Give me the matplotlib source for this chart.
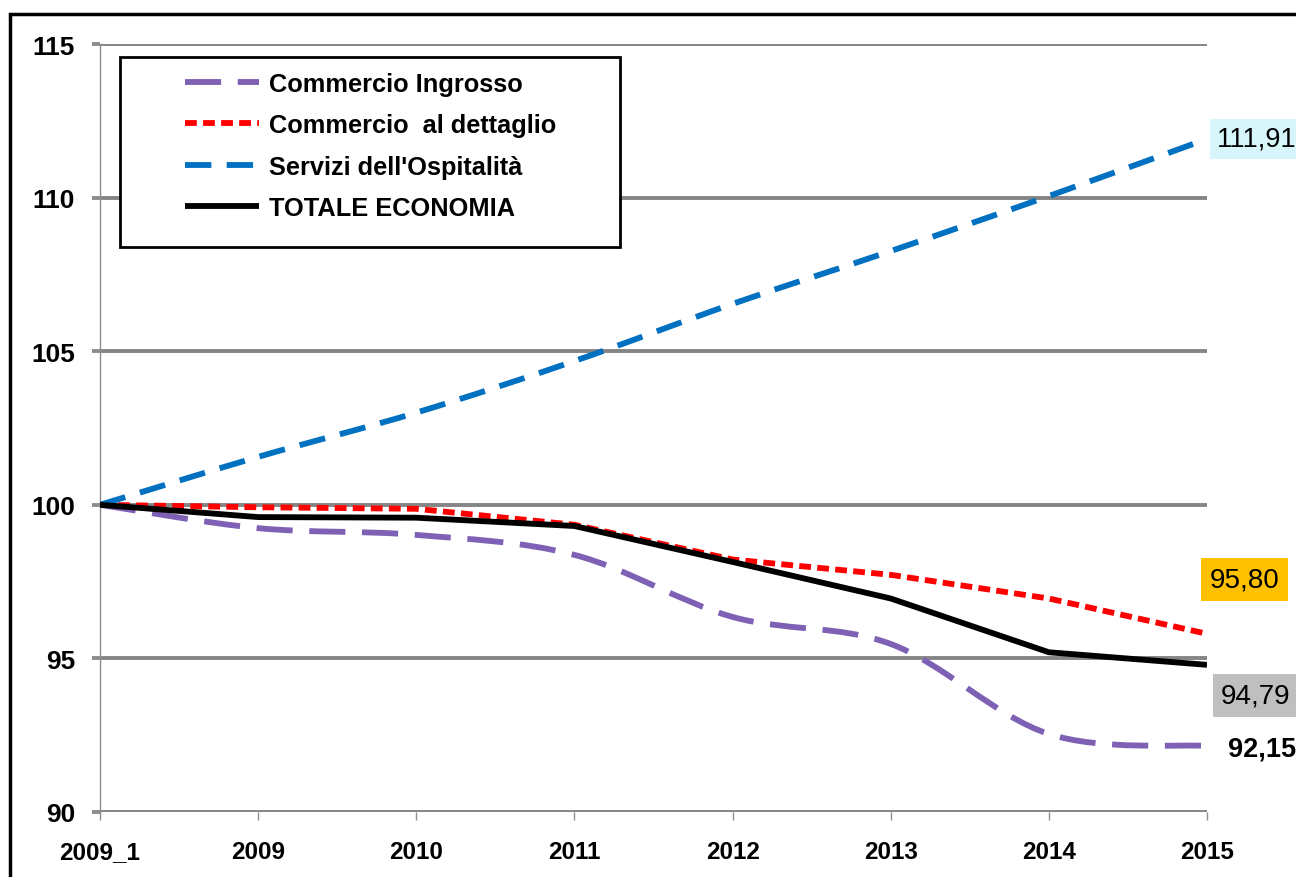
import matplotlib
matplotlib.use("Agg")
import matplotlib.pyplot as plt
from matplotlib.path import Path
from matplotlib.patches import PathPatch, Rectangle
from matplotlib.lines import Line2D

plt.rcParams['font.family'] = ['Liberation Sans', 'DejaVu Sans']
plt.rcParams['lines.scale_dashes'] = False

# Categories and series (index 2009_1 = 100)
years = ["2009_1", "2009", "2010", "2011", "2012", "2013", "2014", "2015"]
ingrosso = [100, 99.24, 99.02, 98.37, 96.35, 95.47, 92.54, 92.15]
dettaglio = [100, 99.92, 99.87, 99.35, 98.22, 97.72, 96.95, 95.80]
ospitalita = [100, 101.56, 103.00, 104.68, 106.54, 108.26, 110.05, 111.91]
totale = [100, 99.60, 99.58, 99.31, 98.14, 96.95, 95.20, 94.79]

labels = ["Commercio Ingrosso", "Commercio  al dettaglio",
          "Servizi dell'Ospitalità", "TOTALE ECONOMIA"]


def line_path(xs, ys, smooth):
    # smooth=True -> Excel-like cubic bezier through every data point
    pts = list(zip(xs, ys))
    n = len(pts)
    if not smooth:
        return Path(pts, [Path.MOVETO] + [Path.LINETO] * (n - 1))
    verts = [pts[0]]
    codes = [Path.MOVETO]
    for i in range(n - 1):
        p0 = pts[max(i - 1, 0)]
        p1 = pts[i]
        p2 = pts[i + 1]
        p3 = pts[min(i + 2, n - 1)]
        c1 = (p1[0] + (p2[0] - p0[0]) / 6, p1[1] + (p2[1] - p0[1]) / 6)
        c2 = (p2[0] - (p3[0] - p1[0]) / 6, p2[1] - (p3[1] - p1[1]) / 6)
        verts += [c1, c2, p2]
        codes += [Path.CURVE4] * 3
    return Path(verts, codes)


fig = plt.figure(figsize=(12.96, 8.78), dpi=100)
ax = fig.add_axes([100 / 1296, 1 - 813 / 878, 1107 / 1296, 768 / 878])

x = list(range(len(years)))
styles = [
    (ingrosso, "#7E60B4", (0, (26, 12)), True),
    (dettaglio, "#FF0000", (0, (8.5, 4.5)), False),
    (ospitalita, "#0070C0", (0, (19, 11)), True),
    (totale, "#000000", "solid", False),
]
handles = []
for (vals, col, ls, sm), lab in zip(styles, labels):
    patch = PathPatch(line_path(x, vals, sm), fill=False, edgecolor=col,
                      lw=4.2, linestyle=ls, capstyle='butt',
                      joinstyle='round', zorder=3)
    ax.add_patch(patch)
    handles.append(Line2D([], [], color=col, lw=4.2, linestyle=ls,
                          solid_capstyle='butt', dash_capstyle='butt'))

ax.set_xlim(0, len(years) - 1)
ax.set_ylim(90, 115)
ax.set_yticks([90, 95, 100, 105, 110, 115])
ax.set_xticks(x)
ax.set_xticklabels(years)

for s in ["top", "right", "bottom"]:
    ax.spines[s].set_visible(False)
ax.spines["left"].set_color("#8C8C8C")
ax.spines["left"].set_linewidth(1)
ax.yaxis.grid(True, color="#858585", lw=2.8, zorder=1)
ax.set_axisbelow(True)
ax.tick_params(axis='both', colors="#8C8C8C", labelcolor="black",
               length=6, width=1)
ax.tick_params(axis='y', length=6, width=2.8, pad=12, labelsize=19)
ax.tick_params(axis='x', pad=14, labelsize=17.5)
for t in ax.get_xticklabels() + ax.get_yticklabels():
    t.set_fontweight('bold')

leg = ax.legend(handles, labels, loc="upper left",
                bbox_to_anchor=(0.0768, 0.9635),
                prop={'weight': 'bold', 'size': 18.3},
                frameon=False, handlelength=2.9,
                handletextpad=0.4, labelspacing=0.68, borderpad=0,
                borderaxespad=0)
# legend frame is wider than its content in the original
ax.add_patch(Rectangle((0.0181, 0.7357), 0.4516, 0.2473,
                       transform=ax.transAxes, fill=True, fc='white',
                       ec='black', lw=2, zorder=4))
leg.set_zorder(5)

# end-of-line value labels
def fmt(v):
    return f"{v:.2f}".replace(".", ",")

ax.annotate(fmt(ospitalita[-1]), xy=(x[-1], ospitalita[-1]),
            xytext=(7, 0), textcoords='offset points', va='center',
            ha='left', fontsize=19.5, annotation_clip=False,
            bbox=dict(boxstyle='square,pad=0.25', fc="#D6F6FC", ec='none'))
ax.annotate(fmt(dettaglio[-1]), xy=(x[-1], dettaglio[-1]),
            xytext=(2, 39), textcoords='offset points', va='center',
            ha='left', fontsize=20, annotation_clip=False,
            bbox=dict(boxstyle='square,pad=0.3', fc="#FFC000", ec='none'))
ax.annotate(fmt(totale[-1]), xy=(x[-1], totale[-1]),
            xytext=(10, -22), textcoords='offset points', va='center',
            ha='left', fontsize=20, annotation_clip=False,
            bbox=dict(boxstyle='square,pad=0.3', fc="#BFBFBF", ec='none'))
ax.annotate(fmt(ingrosso[-1]), xy=(x[-1], ingrosso[-1]),
            xytext=(15, -2), textcoords='offset points', va='center',
            ha='left', fontsize=19.5, fontweight='bold', annotation_clip=False)

# outer chart frame (cut off on right and bottom)
fig.patches.append(Rectangle((10 / 1296, -0.1), 1.2, 1.1 - 15 / 878,
                             transform=fig.transFigure, fill=False,
                             ec='black', lw=2.5))

fig.savefig("out.png", dpi=100)
